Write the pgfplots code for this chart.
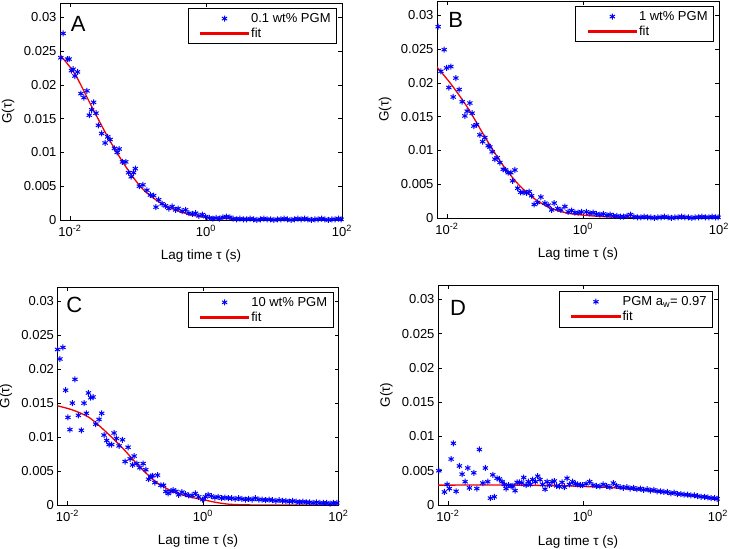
\documentclass[border=0pt]{standalone}
\usepackage{fontspec}
\setmainfont{Liberation Sans}
\usepackage{pgfplots}
\pgfplotsset{compat=1.18}

\definecolor{mblue}{rgb}{0,0,1}
\definecolor{mred}{rgb}{0.95,0,0}

\pgfplotsset{every axis/.append style={
    scale only axis, width=282pt, height=218pt,
    xmin=0.00716, xmax=100, ymin=0, ymax=0.0321,
    xtick={0.01,1,100},
    xticklabels={10\textsuperscript{-2},10\textsuperscript{0},10\textsuperscript{2}},
    ytick={0,0.005,0.01,0.015,0.02,0.025,0.03},
    yticklabels={0,0.005,0.01,0.015,0.02,0.025,0.03},
    scaled y ticks=false,
    tick align=inside, major tick length=4pt, minor tick length=0pt,
    tick style={black, line width=0.5pt},
    axis line style={line width=0.6pt},
    tick label style={font=\fontsize{13}{15}\selectfont},
    x tick label style={yshift=-2pt},
    xlabel={Lag time τ (s)}, ylabel={G(τ)},
    legend cell align=left,
  },
  every axis y label/.style={at={(axis description cs:-0.184,0.5)}, rotate=90, anchor=center,
      font=\fontsize{13.5}{15}\selectfont},
  every axis x label/.style={at={(axis description cs:0.5,-0.166)}, anchor=center,
      font=\fontsize{13.5}{15}\selectfont},
  every axis legend/.append style={anchor=north east, draw=black, line width=0.6pt,
      font=\fontsize{13}{15}\selectfont, inner xsep=4pt, inner ysep=3pt,
      row sep=0pt, cells={anchor=west}},
  datleg/.style={legend image code/.code={\path (-8pt,0pt);
      \draw[mark repeat=2,mark phase=2,##1,mblue] plot coordinates {(0pt,0pt)(24pt,0pt)(48pt,0pt)};}},
  fitleg/.style={legend image code/.code={\path (-8pt,0pt);
      \fill[mred] (0pt,-0.8pt) rectangle (48pt,0.8pt);}},
  datstyle/.style={only marks, color=mblue, mark=asterisk, mark size=3pt,
      mark options={line width=1pt}, datleg},
  fitstyle/.style={color=mred, line width=1.3pt, smooth, tension=0.5, no marks, fitleg},
}
\tikzset{fcslet/.style={anchor=base west, inner sep=0pt, font=\fontsize{22}{22}\selectfont}}

\begin{document}
\begin{tikzpicture}
\fill[white] (0,0) rectangle (729pt,549pt);
\useasboundingbox (0,0) rectangle (729pt,549pt);

% ---------------- A ----------------
\begin{semilogxaxis}[at={(60pt,329pt)}, anchor=south west, height=217pt,
  legend style={at={(0.982,0.977)}}]
\addplot[datstyle] table[row sep=crcr] {%
0.00736 0.0240\\ 0.00796 0.0276\\ 0.00921 0.0238\\ 0.00977 0.0238\\
0.01056 0.0221\\ 0.01119 0.0223\\ 0.01186 0.0213\\ 0.01295 0.0219\\
0.01455 0.0187\\ 0.01611 0.0181\\ 0.01784 0.0191\\ 0.01930 0.0155\\
0.02088 0.0163\\ 0.02234 0.0174\\ 0.02425 0.0158\\ 0.02624 0.0140\\
0.02933 0.0128\\ 0.03294 0.0114\\ 0.03597 0.0123\\ 0.03905 0.0119\\
0.04521 0.0106\\ 0.04955 0.0100\\ 0.05305 0.0105\\ 0.05936 0.0086\\
0.06641 0.0086\\ 0.07278 0.0070\\ 0.07976 0.0064\\ 0.08630 0.0070\\
0.09162 0.0076\\ 0.1050 0.0050\\ 0.1186 0.0052\\ 0.1358 0.0044\\
0.1525 0.0037\\ 0.1706 0.0036\\ 0.1845 0.0019\\ 0.2022 0.0030\\
0.2264 0.0024\\ 0.2541 0.0021\\ 0.2843 0.0017\\ 0.3184 0.0020\\
0.3574 0.0015\\ 0.3908 0.0017\\ 0.4477 0.0013\\ 0.5024 0.0015\\
0.5623 0.0010\\ 0.6295 0.0009\\ 0.7063 0.0010\\ 0.7907 0.0006\\
0.8852 0.0008\\ 0.9931 0.0005\\ 1.12 0.0003\\ 1.26 0.0002\\
1.41 0.0003\\ 1.58 0.0002\\ 1.78 0.0004\\ 2.00 0.0005\\
2.24 0.0004\\ 2.51 0.0002\\ 2.82 0.0001\\ 3.16 0.0002\\
3.55 0.0001\\ 3.98 0.0001\\ 4.47 0.0002\\ 5.01 0.0001\\
5.62 0.0000\\ 6.31 0.0001\\ 7.08 0.0002\\ 7.94 0.0001\\
8.91 0.0001\\ 10.0 0.0000\\ 11.2 0.0001\\ 12.6 0.0001\\
14.1 0.0002\\ 15.8 0.0001\\ 17.8 0.0000\\ 20.0 0.0001\\
22.4 0.0002\\ 25.1 0.0001\\ 28.2 0.0002\\ 31.6 0.0001\\
35.5 0.0000\\ 39.8 0.0001\\ 44.7 0.0001\\ 50.1 0.0002\\
56.2 0.0001\\ 63.1 0.0000\\ 70.8 0.0001\\ 79.4 0.0001\\
89.1 0.0002\\ 97.0 0.0001\\
};
\addlegendentry{0.1 wt\% PGM}
\addplot[fitstyle] table[row sep=crcr] {%
0.00716 0.0244\\ 0.01186 0.0216\\ 0.02088 0.0168\\ 0.0369 0.0121\\
0.0652 0.0080\\ 0.1146 0.0047\\ 0.2022 0.0027\\ 0.3574 0.0015\\
0.6295 0.0007\\ 1.111 0.0004\\ 2.0 0.0002\\ 4.0 0.00008\\
10 0.00002\\ 100 0\\
};
\addlegendentry{fit}
\node[fcslet] at (rel axis cs:0.038,0.868) {A};
\end{semilogxaxis}

% ---------------- B ----------------
\begin{semilogxaxis}[at={(437pt,331pt)}, anchor=south west, height=217pt,
  legend style={at={(0.982,0.977)}}]
\addplot[datstyle] table[row sep=crcr] {%
0.00744 0.0283\\ 0.00817 0.0217\\ 0.00913 0.0249\\ 0.00990 0.0222\\
0.01069 0.0193\\ 0.01145 0.0224\\ 0.01238 0.0179\\ 0.01356 0.0207\\
0.01517 0.0190\\ 0.01679 0.0172\\ 0.01839 0.0151\\ 0.01989 0.0158\\
0.02180 0.0170\\ 0.02355 0.0155\\ 0.02494 0.0136\\ 0.02734 0.0138\\
0.03055 0.0123\\ 0.03350 0.0113\\ 0.03622 0.0119\\ 0.04047 0.0107\\
0.04286 0.0105\\ 0.04634 0.0098\\ 0.05078 0.0087\\ 0.05492 0.0089\\
0.06016 0.0082\\ 0.06731 0.0072\\ 0.07295 0.0071\\ 0.07966 0.0067\\
0.08730 0.0067\\ 0.09247 0.0055\\ 0.1000 0.0071\\ 0.1096 0.0044\\
0.1213 0.0038\\ 0.1325 0.0038\\ 0.1486 0.0037\\ 0.1623 0.0039\\
0.1761 0.0033\\ 0.1923 0.0020\\ 0.2158 0.0023\\ 0.2412 0.0031\\
0.2760 0.0022\\ 0.3088 0.0019\\ 0.3465 0.0012\\ 0.3786 0.0022\\
0.4245 0.0014\\ 0.4747 0.0012\\ 0.5432 0.0017\\ 0.6081 0.0009\\
0.6823 0.0011\\ 0.7627 0.0008\\ 0.8531 0.0008\\ 0.9574 0.0009\\
1.12 0.0009\\ 1.26 0.0007\\ 1.41 0.0008\\ 1.58 0.0006\\
1.78 0.0005\\ 2.00 0.0006\\ 2.24 0.0004\\ 2.51 0.0005\\
2.82 0.0003\\ 3.16 0.0003\\ 3.55 0.0002\\ 3.98 0.0002\\
4.47 0.0003\\ 5.01 0.0005\\ 5.62 0.0002\\ 6.31 0.0001\\
7.08 0.0001\\ 7.94 0.0002\\ 8.91 0.0001\\ 10.0 0.0001\\
11.2 0.0000\\ 12.6 0.0001\\ 14.1 0.0001\\ 15.8 0.0002\\
17.8 0.0001\\ 20.0 0.0000\\ 22.4 0.0001\\ 25.1 0.0001\\
28.2 0.0002\\ 31.6 0.0001\\ 35.5 0.0001\\ 39.8 0.0000\\
44.7 0.0001\\ 50.1 0.0001\\ 56.2 0.0002\\ 63.1 0.0001\\
70.8 0.0001\\ 79.4 0.0002\\ 89.1 0.0001\\ 97.0 0.0001\\
};
\addlegendentry{1 wt\% PGM}
\addplot[fitstyle] table[row sep=crcr] {%
0.00706 0.0224\\ 0.01173 0.0197\\ 0.02056 0.0162\\ 0.03622 0.0120\\
0.06368 0.0081\\ 0.1119 0.0050\\ 0.1968 0.0028\\ 0.3465 0.0014\\
0.6081 0.0007\\ 1.069 0.0004\\ 2.0 0.0002\\ 4.0 0.00008\\
10 0.00002\\ 100 0\\
};
\addlegendentry{fit}
\node[fcslet] at (rel axis cs:0.04,0.877) {B};
\end{semilogxaxis}

% ---------------- C ----------------
\begin{semilogxaxis}[at={(57.5pt,44pt)}, anchor=south west, width=281pt, height=218pt,
  legend style={at={(0.982,0.978)}}]
\addplot[datstyle] table[row sep=crcr] {%
0.00718 0.0229\\ 0.00778 0.0215\\ 0.00861 0.0232\\ 0.00944 0.0169\\
0.01021 0.0129\\ 0.01092 0.0111\\ 0.01186 0.0150\\ 0.01295 0.0185\\
0.01455 0.0132\\ 0.01611 0.0110\\ 0.01762 0.0150\\ 0.01910 0.0135\\
0.02046 0.0165\\ 0.02213 0.0158\\ 0.02393 0.0159\\ 0.02624 0.0119\\
0.02933 0.0126\\ 0.03214 0.0135\\ 0.03475 0.0103\\ 0.03811 0.0095\\
0.04121 0.0089\\ 0.04519 0.0089\\ 0.04887 0.0106\\ 0.05305 0.0098\\
0.05794 0.0087\\ 0.06512 0.0096\\ 0.07112 0.0064\\ 0.07870 0.0085\\
0.08433 0.0068\\ 0.09162 0.0059\\ 0.09667 0.0072\\ 0.1060 0.0061\\
0.1174 0.0055\\ 0.1314 0.0061\\ 0.1439 0.0052\\ 0.1578 0.0038\\
0.1706 0.0042\\ 0.1808 0.0043\\ 0.1954 0.0033\\ 0.2143 0.0044\\
0.2398 0.0029\\ 0.2630 0.0029\\ 0.2843 0.0020\\ 0.3076 0.0017\\
0.3373 0.0020\\ 0.3647 0.0022\\ 0.3998 0.0020\\ 0.4383 0.0015\\
0.4906 0.0019\\ 0.5495 0.0016\\ 0.6172 0.0014\\ 0.6905 0.0014\\
0.7727 0.0017\\ 0.8675 0.0012\\ 0.9931 0.0008\\ 1.087 0.0012\\
1.19 0.0015\\ 1.33 0.0013\\ 1.50 0.0011\\ 1.68 0.0012\\
1.88 0.0010\\ 2.11 0.0011\\ 2.37 0.0010\\ 2.66 0.0010\\
2.99 0.0009\\ 3.35 0.0010\\ 3.76 0.0009\\ 4.22 0.0008\\
4.73 0.0009\\ 5.31 0.0008\\ 5.96 0.0010\\ 6.68 0.0008\\
7.50 0.0008\\ 8.41 0.0007\\ 9.44 0.0008\\ 10.6 0.0007\\
11.9 0.0006\\ 13.3 0.0007\\ 15.0 0.0006\\ 16.8 0.0006\\
18.8 0.0005\\ 21.1 0.0006\\ 23.7 0.0005\\ 26.6 0.0004\\
29.9 0.0005\\ 33.5 0.0004\\ 37.6 0.0004\\ 42.2 0.0003\\
47.3 0.0004\\ 53.1 0.0003\\ 59.6 0.0003\\ 66.8 0.0003\\
75.0 0.0002\\ 84.1 0.0003\\ 94.4 0.0003\\
};
\addlegendentry{10 wt\% PGM}
\addplot[fitstyle] table[row sep=crcr] {%
0.00716 0.0146\\ 0.01186 0.0140\\ 0.02088 0.0129\\ 0.0369 0.0108\\
0.06512 0.0084\\ 0.1146 0.0057\\ 0.2025 0.0034\\ 0.3574 0.0020\\
0.630 0.0012\\ 1.111 0.0007\\ 1.349 0.0005\\ 2.218 0.00015\\
3.92 0.00003\\ 10 0\\ 100 0\\
};
\addlegendentry{fit}
\node[fcslet] at (rel axis cs:0.031,0.883) {C};
\end{semilogxaxis}

% ---------------- D ----------------
\begin{semilogxaxis}[at={(438pt,44pt)}, anchor=south west, width=280pt, height=220pt,
  legend style={at={(0.982,0.972)}}]
\addplot[datstyle] table[row sep=crcr] {%
0.00736 0.0050\\ 0.00891 0.0019\\ 0.00977 0.0030\\ 0.01056 0.0024\\
0.01119 0.0067\\ 0.01210 0.0090\\ 0.01327 0.0020\\ 0.01485 0.0057\\
0.01628 0.0045\\ 0.01804 0.0034\\ 0.01977 0.0054\\ 0.02088 0.0025\\
0.02425 0.0047\\ 0.02688 0.0024\\ 0.02933 0.0081\\ 0.03294 0.0032\\
0.03600 0.0054\\ 0.03905 0.0034\\ 0.04270 0.0010\\ 0.04629 0.0044\\
0.04892 0.0012\\ 0.05355 0.0039\\ 0.05794 0.0038\\ 0.06353 0.0034\\
0.06871 0.0030\\ 0.07278 0.0024\\ 0.07976 0.0029\\ 0.08630 0.0027\\
0.09162 0.0028\\ 0.09899 0.0021\\ 0.1060 0.0033\\ 0.1147 0.0033\\
0.1244 0.0032\\ 0.1331 0.0040\\ 0.1439 0.0029\\ 0.1556 0.0034\\
0.1666 0.0030\\ 0.1808 0.0037\\ 0.1977 0.0034\\ 0.2143 0.0042\\
0.2317 0.0037\\ 0.2541 0.0030\\ 0.2748 0.0023\\ 0.2942 0.0034\\
0.3184 0.0029\\ 0.3491 0.0034\\ 0.3775 0.0035\\ 0.4093 0.0028\\
0.4477 0.0027\\ 0.4906 0.0033\\ 0.5309 0.0026\\ 0.5819 0.0039\\
0.6295 0.0030\\ 0.7063 0.0034\\ 0.7727 0.0031\\ 0.8375 0.0030\\
0.9165 0.0029\\ 0.9931 0.0029\\ 1.12 0.0031\\ 1.26 0.0034\\
1.41 0.0029\\ 1.58 0.0028\\ 1.78 0.0027\\ 2.00 0.0030\\
2.24 0.0028\\ 2.51 0.0026\\ 2.82 0.0032\\ 3.16 0.0028\\
3.55 0.0026\\ 3.98 0.0025\\ 4.47 0.0026\\ 5.01 0.0024\\
5.62 0.0025\\ 6.31 0.0023\\ 7.08 0.0024\\ 7.94 0.0022\\
8.91 0.0023\\ 10.0 0.0021\\ 11.2 0.0022\\ 12.6 0.0020\\
14.1 0.0020\\ 15.8 0.0019\\ 17.8 0.0019\\ 20.0 0.0017\\
22.4 0.0018\\ 25.1 0.0016\\ 28.2 0.0016\\ 31.6 0.0015\\
35.5 0.0015\\ 39.8 0.0014\\ 44.7 0.0014\\ 50.1 0.0013\\
56.2 0.0012\\ 63.1 0.0012\\ 70.8 0.0011\\ 79.4 0.0010\\
89.1 0.0010\\ 97.0 0.0009\\
};
\addlegendentry{PGM a\textsubscript{w}= 0.97}
\addplot[fitstyle] table[row sep=crcr] {%
0.00716 0.0029\\ 0.1 0.0029\\ 0.5 0.0028\\ 1.0 0.0027\\
2.0 0.0026\\ 4.2 0.0024\\ 9.8 0.0021\\ 23 0.0017\\
54 0.0012\\ 100 0.0008\\
};
\addlegendentry{fit}
\node[fcslet] at (rel axis cs:0.043,0.863) {D};
\end{semilogxaxis}
\end{tikzpicture}
\end{document}
